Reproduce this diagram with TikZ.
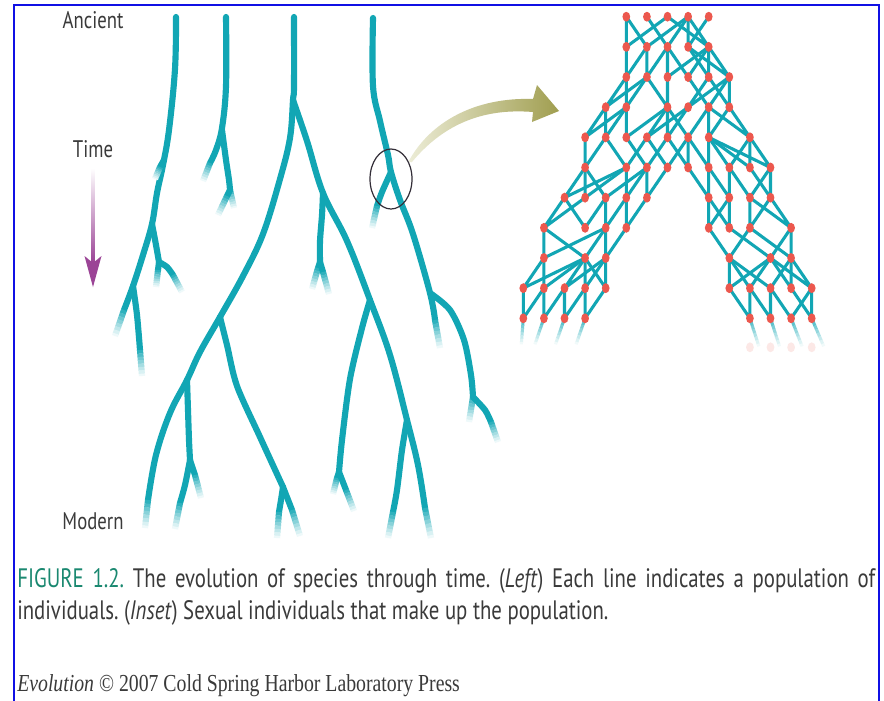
\documentclass[tikz,border=0pt]{standalone}
\usepackage{fontspec}
\setmainfont{Liberation Serif}
\newfontfamily\capf[FakeStretch=0.78]{PT Sans}
\newfontfamily\serf[FakeStretch=0.81]{Liberation Serif}
\usetikzlibrary{calc,shapes.geometric}
\definecolor{tealc}{RGB}{18,166,180}
\definecolor{dotred}{RGB}{236,88,78}
\definecolor{purp}{RGB}{155,68,150}
\definecolor{olivec}{RGB}{160,158,80}
\definecolor{olivep}{RGB}{236,236,214}
\definecolor{figgreen}{RGB}{26,136,112}
\definecolor{textgray}{RGB}{58,58,58}
\definecolor{frameblue}{RGB}{16,16,228}
\definecolor{circgray}{RGB}{50,45,55}
\frenchspacing
\tikzset{
  br/.style={line width=4.6pt, draw=tealc, line cap=round, line join=round},
  netln/.style={line width=2.3pt, draw=tealc, line cap=round, line join=round},
  dot/.style={ellipse, fill=dotred, draw=none, inner sep=0pt, minimum width=5.8pt, minimum height=7.4pt},
  lbl/.style={font=\capf\fontsize{18}{20}\selectfont, text=textgray, inner sep=0pt}
}
\newcommand{\tfade}[2]{%
  \foreach \fa/\fb/\fcol in {0/0.14/88,0.13/0.27/75,0.26/0.4/62,0.39/0.53/50,0.52/0.66/38,0.65/0.79/27,0.78/0.92/16,0.91/1/7}{%
    \draw[line width=4.6pt, line cap=butt, draw=tealc!\fcol!white] ($(#1)!\fa!(#2)$) -- ($(#1)!\fb!(#2)$);}}
\newcommand{\nfade}[2]{%
  \foreach \fa/\fb/\fcol in {0/0.14/80,0.13/0.27/68,0.26/0.4/56,0.39/0.53/45,0.52/0.66/34,0.65/0.79/24,0.78/0.92/14,0.91/1/6}{%
    \draw[line width=2.3pt, line cap=butt, draw=tealc!\fcol!white] ($(#1)!\fa!(#2)$) -- ($(#1)!\fb!(#2)$);}}
\begin{document}
\begin{tikzpicture}[x=0.75pt,y=-0.75pt]
\useasboundingbox (0,0) rectangle (884,700);
\fill[white] (0,0) rectangle (884,700);
% frame
\draw[frameblue, line width=1.5pt] (14,710) -- (14,5) -- (879,5) -- (879,710);

% ---------- tree ----------
% lineage A
\draw[br] plot[smooth,tension=.6] coordinates {(176,17) (175,69) (169,130) (163,165) (157,193) (152,224) (143,255) (133,286) (124,310)};
\tfade{124,310}{115,336}
\draw[br] (164,160) -- (160,167); \tfade{160,167}{155,179}
\draw[br] plot[smooth] coordinates {(152,224) (156,245) (159,262)};
\draw[br] (159,262) -- (158,270); \tfade{158,270}{156,287}
\draw[br] plot[smooth] coordinates {(159,262) (167,267) (173,275)}; \tfade{173,275}{182,292}
\draw[br] plot[smooth] coordinates {(133,286) (137,315) (140,350)}; \tfade{140,350}{142,376}
% lineage B
\draw[br] plot[smooth,tension=.6] coordinates {(226,17) (226,86) (222,128) (216,150) (210,163)}; \tfade{210,163}{203,181}
\draw[br] plot[smooth] coordinates {(222,130) (226,160) (229,180) (230,190)};
\tfade{230,190}{234,208}
\draw[br] (230,190) -- (227,196); \tfade{227,196}{218,215}
% lineage C
\draw[br] plot[smooth,tension=.6] coordinates {(294,17) (294,86) (293,100) (290,138) (280,179) (263,234) (243,276) (220,317) (200,352) (187,380) (170,413) (156,455) (148,500)};
\tfade{148,500}{145,528}
\draw[br] plot[smooth,tension=.6] coordinates {(293,100) (307,141) (323,193) (347,241) (370,300) (390,355) (407,420) (418,465) (425,508)};
\tfade{425,508}{431,538}
\draw[br] plot[smooth] coordinates {(323,193) (322,215) (320,241) (320,262)};
\draw[br] (320,262) -- (318,268); \tfade{318,268}{312,289}
\draw[br] (320,262) -- (323,272); \tfade{323,272}{329,294}
\draw[br] plot[smooth] coordinates {(370,300) (362,328) (350,379) (342,440) (339,472)};
\draw[br] (339,472) -- (337,478); \tfade{337,478}{333,494}
\draw[br] (339,472) -- (346,490); \tfade{346,490}{354,511}
\draw[br] plot[smooth] coordinates {(407,420) (402,450) (397,490) (393,512)}; \tfade{393,512}{388,538}
\draw[br] plot[smooth] coordinates {(220,317) (227,345) (237,386) (260,437) (283,487)};
\draw[br] plot[smooth] coordinates {(283,487) (281,500) (279,512)}; \tfade{279,512}{277,538}
\draw[br] (283,487) -- (292,510); \tfade{292,510}{300,536}
\draw[br] plot[smooth] coordinates {(187,380) (188,410) (189,440) (190,460)};
\draw[br] plot[smooth] coordinates {(190,460) (185,485) (180,503)}; \tfade{180,503}{175,529}
\draw[br] (190,460) -- (195,475); \tfade{195,475}{201,498}
% lineage D
\draw[br] plot[smooth,tension=.6] coordinates {(373,18) (373,86) (380,121) (388,155) (391,172) (400,200) (413,234) (430,293) (435,320)};
\tfade{435,320}{440,348}
\draw[br] plot[smooth] coordinates {(391,172) (382,192) (377,206)}; \tfade{377,206}{372,228}
\draw[br] plot[smooth] coordinates {(430,293) (450,310) (464,340) (471,375) (473,397)};
\tfade{473,397}{469,422}
\draw[br] plot[smooth] coordinates {(473,397) (485,410) (491,422)}; \tfade{491,422}{498,442}

% circle and arrow to inset
\node[ellipse, draw=circgray, line width=0.9pt, minimum width=31.5pt, minimum height=45pt, inner sep=0pt] (circ) at (391,179) {};
\shade[left color=olivep, right color=olivec] (circ.45) .. controls (430,122) and (475,97) .. (533,99)
  -- (537,85) -- (559,111) -- (532,122) -- (533,112)
  .. controls (495,109) and (450,116) .. ($(circ.45)+(3,1)$) -- cycle;

% labels and time arrow
\node[lbl, anchor=base] (anc) at (93,28) {Ancient};
\node[lbl, anchor=base] (time) at (93,157) {Time};
\node[lbl, anchor=base] (mod) at (93,529) {Modern};
\shade[top color=white, bottom color=purp] (91.4,168) rectangle (94.6,262);
\fill[purp] (84.5,256) -- (93,287) -- (101.5,256) -- (93,263) -- cycle;

% ---------- inset network ----------
\foreach \r/\cl in {0/{5,6,7,8,9},1/{5,6,7,8,9},2/{5,6,7,8,9,10},3/{4,5,7,8,9,10},4/{3,4,5,6,7,8,9,11},5/{3,5,6,7,8,9,10,11,12},6/{2,3,4,5,6,9,10,11,12},7/{1,3,4,5,9,10,11,13},8/{1,3,4,10,12,13},9/{0,1,2,3,4,10,11,12,13,14},10/{0,1,2,3,11,12,13,14}}{
  \foreach \c in \cl {\coordinate (n-\r-\c) at ({523.3+20.6*\c},{16.7+30.16*\r});}}
\foreach \r/\c/\a/\b in {1/5/5/7, 1/6/5/8, 1/7/6/8, 1/8/8/9, 1/9/7/8,
  2/5/5/6, 2/6/6/7, 2/7/7/9, 2/8/7/9, 2/9/8/9, 2/10/9/8,
  3/4/5/6, 3/5/5/6, 3/7/7/6, 3/8/9/10, 3/9/8/10, 3/10/10/9,
  4/3/4/5, 4/4/4/5, 4/5/5/7, 4/6/7/8, 4/7/7/8, 4/8/9/7, 4/9/9/10, 4/11/10/9,
  5/3/3/4, 5/5/4/6, 5/6/7/5, 5/7/6/8, 5/8/7/8, 5/9/9/8, 5/10/9/11, 5/11/11/9, 5/12/11/9,
  6/2/3/5, 6/3/3/5, 6/4/3/6, 6/5/5/6, 6/6/6/7, 6/9/8/9, 6/10/9/10, 6/11/10/12, 6/12/12/11,
  7/1/2/3, 7/3/2/4, 7/4/4/5, 7/5/5/6, 7/9/9/10, 7/10/10/9, 7/11/11/12, 7/13/12/11,
  8/1/1/4, 8/3/1/4, 8/4/4/5, 8/10/9/11, 8/12/10/13, 8/13/13/11,
  9/0/1/3, 9/1/1/3, 9/2/3/4, 9/3/3/4, 9/4/4/3, 9/10/10/12, 9/11/10/12, 9/12/10/13, 9/13/13/12, 9/14/13/12,
  10/0/0/1, 10/1/1/2, 10/2/2/3, 10/3/3/4, 10/11/10/11, 10/12/11/12, 10/13/12/14, 10/14/14/13}{
  \pgfmathtruncatemacro\q{\r-1}
  \draw[netln] (n-\q-\a) -- (n-\r-\c) -- (n-\q-\b);}
% fading lower ends
\foreach \c/\dx in {0/-2,1/-9,2/-9,3/-9}{
  \coordinate (e-\c) at ($(n-10-\c)+(\dx,26)$);
  \nfade{n-10-\c}{e-\c}}
\foreach \c/\dx in {11/9,12/9,13/11,14/12}{
  \coordinate (f-\c) at ($(n-10-\c)+(\dx,28)$);
  \nfade{n-10-\c}{f-\c}}
\foreach \c in {11,12,13,14}{
  \node[dot, fill=dotred!14!white] (g-\c) at ($(n-10-\c)+(0,29)$) {};}
% dots
\foreach \r/\cl in {0/{5,6,7,8,9},1/{5,6,7,8,9},2/{5,6,7,8,9,10},3/{4,5,7,8,9,10},4/{3,4,5,6,7,8,9,11},5/{3,5,6,7,8,9,10,11,12},6/{2,3,4,5,6,9,10,11,12},7/{1,3,4,5,9,10,11,13},8/{1,3,4,10,12,13},9/{0,1,2,3,4,10,11,12,13,14},10/{0,1,2,3,11,12,13,14}}{
  \foreach \c in \cl {\node[dot] (d-\r-\c) at (n-\r-\c) {};}}

% ---------- caption ----------
\node[anchor=base west, inner sep=0pt, text=textgray] (cap1) at (17,587)
  {\capf\fontsize{20}{22}\selectfont\makebox[643.5pt][s]{\textcolor{figgreen}{FIGURE 1.2.} The evolution of species through time. (\textit{Left}) Each line indicates a population of}};
\node[anchor=base west, inner sep=0pt, text=textgray] (cap2) at (17,619)
  {\capf\fontsize{20}{22}\selectfont individuals. (\textit{Inset}) Sexual individuals that make up the population.};
\node[anchor=base west, inner sep=0pt, text=textgray] (cred) at (17,691)
  {\serf\fontsize{18.3}{20}\selectfont\textit{Evolution} © 2007 Cold Spring Harbor Laboratory Press};
\end{tikzpicture}
\end{document}
